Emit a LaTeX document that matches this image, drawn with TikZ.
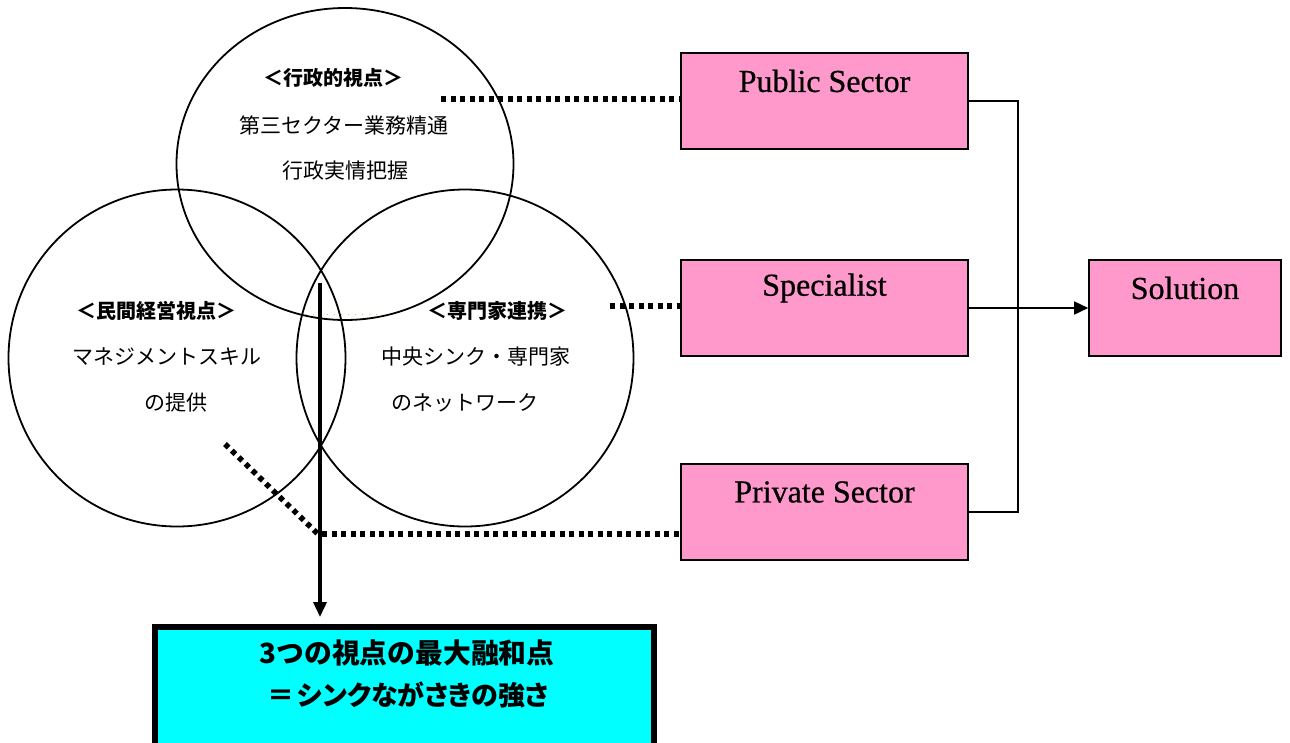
\documentclass[tikz,border=0pt]{standalone}
\usepackage{fontspec}
\setmainfont{Liberation Serif}
\newfontfamily\enfont{Liberation Serif}[FakeBold=0.6]
\newfontfamily\jp{Noto Sans CJK JP}
\newfontfamily\jpp{Noto Sans CJK JP}[RawFeature=+palt]
\usetikzlibrary{shapes.geometric,arrows.meta}
\definecolor{boxpink}{HTML}{FF99CC}
\definecolor{boxcyan}{HTML}{00FFFF}
\definecolor{faintorange}{HTML}{F5B54A}
\begin{document}
\begin{tikzpicture}[x=1pt,y=-1pt,
  circ/.style={draw=black,line width=1.8pt,ellipse,inner sep=0pt},
  pinkbox/.style={draw=black,line width=1.6pt,fill=boxpink,minimum width=287pt,minimum height=96pt,inner sep=0pt},
  entext/.style={font=\enfont\fontsize{32}{34}\selectfont,inner sep=0pt,anchor=center},
  jphead/.style={font=\jp\bfseries\fontsize{20}{22}\selectfont,inner sep=0pt},
  jpbody/.style={font=\jp\fontsize{21}{23}\selectfont,inner sep=0pt},
  jpbig/.style={font=\jp\bfseries\fontsize{27.8}{30}\selectfont,inner sep=0pt},
  jpbigp/.style={font=\jpp\bfseries\fontsize{27}{30}\selectfont,inner sep=0pt},
  dotline/.style={line width=5.5pt,dash pattern=on 5pt off 4.5pt},
  conn/.style={line width=1.6pt},
  tip/.style={-{Triangle[length=14pt,width=13pt]}}]
\useasboundingbox (0,0) rectangle (1290,742);

% circles
\node[circ,minimum width=337pt,minimum height=312pt] (ctop) at (345,164) {};
\node[circ,minimum width=337pt,minimum height=337pt] (cleft) at (177,358) {};
\node[circ,minimum width=337pt,minimum height=337pt] (cright) at (465,358) {};

% faint orange dots
\coordinate (o1) at (306,314);
\coordinate (o2) at (383,314);
\draw[faintorange,line width=1pt,dash pattern=on 1pt off 6pt] (o1) -- (o2);

% circle texts
\node[jphead] (t1) at (333,78) {＜行政的視点＞};
\node[jpbody] (t2) at (344,125) {第三セクター業務精通};
\node[jpbody] (t3) at (345,171) {行政実情把握};
\node[jphead] (t4) at (156,311) {＜民間経営視点＞};
\node[jpbody] (t5) at (167,357) {マネジメントスキル};
\node[jpbody] (t6) at (176,403) {の提供};
\node[jphead] (t7) at (497,311) {＜専門家連携＞};
\node[jpbody] (t8) at (476,357) {中央シンク・専門家};
\node[jpbody] (t9) at (465,403) {のネットワーク};

% pink boxes
\node[pinkbox] (pub) at (824.5,101) {};
\node[pinkbox] (spec) at (824.5,308) {};
\node[pinkbox] (priv) at (824.5,512) {};
\node[pinkbox,minimum width=192pt] (sol) at (1185,308) {};
\node[entext] (pubt) at (824.5,81) {Public Sector};
\node[entext] (spect) at (824.5,288) {Specialist};
\node[entext] (privt) at (824.5,492) {Private Sector};
\node[entext] (solt) at (1185,288) {Solution};

% connectors on the right
\draw[conn] (pub.east) -- ++(49,0) |- (priv.east);
\draw[conn,tip] (spec.east) -- (sol.west);

% dotted connectors
\coordinate (d1) at (441,99);
\coordinate (d2) at (610,306);
\coordinate (d3) at (322,534);
\coordinate (d4) at (225,444);
\coordinate (d5) at (320,536);
\draw[dotline] (d1) -- (d1 -| pub.west);
\draw[dotline] (d2) -- (d2 -| spec.west);
\draw[dotline] (d3) -- (d3 -| priv.west);
\draw[dotline] (d4) -- (d5);

% cyan result box
\draw[line width=6pt,fill=boxcyan] (155,627) rectangle (654,770);
\coordinate (cytop) at (320,624);
\node[jpbig] (r1) at (407,653) {3つの視点の最大融和点};
\node[jpbigp] (r2) at (408,695) {＝\kern3pt シンクながさきの強さ};

% vertical arrow
\coordinate (v1) at (320,283);
\draw[line width=3.5pt,-{Triangle[length=15pt,width=13pt]}] (v1) -- ([yshift=7pt]cytop);
\end{tikzpicture}
\end{document}
